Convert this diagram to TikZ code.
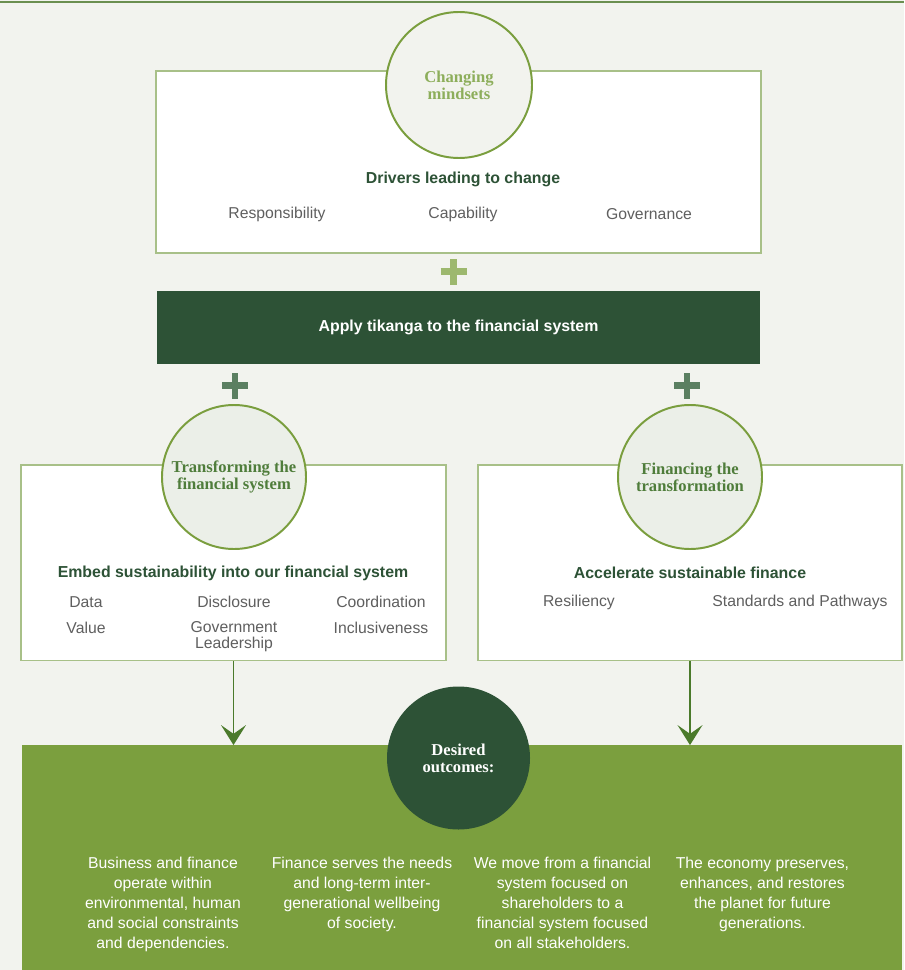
\documentclass[tikz,border=0pt]{standalone}
\usepackage{fontspec}
\setmainfont{Liberation Sans}
\newfontfamily\circfont{Liberation Serif}
\usepackage{tikz}
\usetikzlibrary{arrows.meta,positioning}
\usepackage{xcolor}
\definecolor{pagebg}{RGB}{242,243,238}
\definecolor{rulegreen}{RGB}{107,143,80}
\definecolor{edgegreen}{RGB}{168,192,136}
\definecolor{ringgreen}{RGB}{122,158,62}
\definecolor{circfill}{RGB}{235,239,232}
\definecolor{darkgreen}{RGB}{45,82,54}
\definecolor{panelgreen}{RGB}{123,159,62}
\definecolor{palegreen}{RGB}{157,184,110}
\definecolor{sagegreen}{RGB}{91,127,97}
\definecolor{arrowgreen}{RGB}{75,122,43}
\definecolor{itemgrey}{RGB}{95,95,95}
\definecolor{mindgreen}{RGB}{141,174,91}
\definecolor{titlegreen}{RGB}{79,125,59}
\tikzstyle{arrow} = [line width=1pt,-{Stealth[length=0.5cm,width=0.625cm,inset=0.22cm]},color=arrowgreen]

\begin{document}
\begin{tikzpicture}[
    box/.style={rectangle, draw=edgegreen, line width=1pt, fill=white, inner sep=0pt},
    ring/.style={circle, draw=ringgreen, line width=1.4pt, fill=circfill, inner sep=0pt, align=center, font=\circfont\bfseries\fontsize{11.8}{12.1}\selectfont, text=titlegreen},
    heading/.style={font=\bfseries\fontsize{11.3}{13}\selectfont, text=darkgreen},
    item/.style={font=\fontsize{11.2}{11.4}\selectfont, text=itemgrey, align=center},
    outcome/.style={font=\fontsize{11.2}{14.2}\selectfont, text=white, align=center, anchor=north, inner sep=0pt},
    plusmark/.style={line width=4.6pt}]

% Page
\useasboundingbox (0,0) rectangle (22.6,-24.25);
\fill[pagebg] (0,0) rectangle (22.6,-24.25);
\draw[rulegreen, line width=1.3pt] (0,-0.06) -- (22.6,-0.06);

% Drivers
\node[box, minimum width=15.125cm, minimum height=4.55cm] (drivers) at (11.4625,-4.05) {};
\node[ring, fill=pagebg, text=mindgreen, minimum size=3.65cm] (mindsets) at (11.475,-2.125) {Changing\\mindsets};
\node[heading] (driverstitle) at (11.575,-4.475) {Drivers leading to change};
\node[item] (resp) at (6.925,-5.35) {Responsibility};
\node[item] (capab) at (11.575,-5.35) {Capability};
\node[item] (govern) at (16.225,-5.35) {Governance};

% Tikanga bar
\coordinate (plustop) at (11.34,-6.79);
\draw[plusmark, palegreen] (plustop) ++(-0.325,0) -- ++(0.65,0) (plustop) ++(0,-0.325) -- ++(0,0.65);
\node[rectangle, fill=darkgreen, minimum width=15.075cm, minimum height=1.825cm, text=white, font=\bfseries\fontsize{11.3}{13}\selectfont] (tikanga) at (11.4625,-8.1875) {Apply tikanga to the financial system};
\coordinate (plusleft) at (5.875,-9.6375);
\coordinate (plusright) at (17.175,-9.6375);
\draw[plusmark, sagegreen] (plusleft) ++(-0.325,0) -- ++(0.65,0) (plusleft) ++(0,-0.325) -- ++(0,0.65);
\draw[plusmark, sagegreen] (plusright) ++(-0.325,0) -- ++(0.65,0) (plusright) ++(0,-0.325) -- ++(0,0.65);

% Transforming the financial system
\node[box, minimum width=10.625cm, minimum height=4.8875cm] (transformbox) at (5.8375,-14.069) {};
\node[ring, minimum size=3.6cm] (transformring) at (5.85,-11.925) {Transforming the\\financial system};
\node[heading] (embed) at (5.825,-14.325) {Embed sustainability into our financial system};
\node[item] (data) at (2.15,-15.05) {Data};
\node[item] (disclosure) at (5.85,-15.05) {Disclosure};
\node[item] (coord) at (9.525,-15.05) {Coordination};
\node[item] (value) at (2.15,-15.7) {Value};
\node[item] (govlead) at (5.85,-15.925) {Government\\Leadership};
\node[item] (inclusive) at (9.525,-15.7) {Inclusiveness};

% Financing the transformation
\node[box, minimum width=10.6cm, minimum height=4.8875cm] (financebox) at (17.25,-14.069) {};
\node[ring, minimum size=3.6cm] (financering) at (17.25,-11.925) {Financing the\\transformation};
\node[heading] (accelerate) at (17.25,-14.325) {Accelerate sustainable finance};
\node[item] (resilient) at (14.475,-15.05) {Resiliency};
\node[item] (standards) at (20.0,-15.05) {Standards and Pathways};

% Desired outcomes
\node[rectangle, fill=panelgreen, minimum width=22cm, minimum height=5.6125cm, inner sep=0pt] (outcomes) at (11.55,-21.44) {};
\draw[arrow] (transformbox.south) -- (transformbox.south |- outcomes.north);
\draw[arrow] (financebox.south) -- (financebox.south |- outcomes.north);
\node[ring, fill=darkgreen, draw=none, text=white!94!pagebg, minimum size=3.575cm] (desired) at (11.4625,-18.95) {Desired\\outcomes:};

\node[outcome] (outone) at (4.075,-21.425) {Business and finance\\operate within\\environmental, human\\and social constraints\\and dependencies.};
\node[outcome] (outtwo) at (9.05,-21.425) {Finance serves the needs\\and long-term inter-\\generational wellbeing\\of society.};
\node[outcome] (outthree) at (14.0625,-21.425) {We move from a financial\\system focused on\\shareholders to a\\financial system focused\\on all stakeholders.};
\node[outcome] (outfour) at (19.0625,-21.425) {The economy preserves,\\enhances, and restores\\the planet for future\\generations.};

\end{tikzpicture}
\end{document}
